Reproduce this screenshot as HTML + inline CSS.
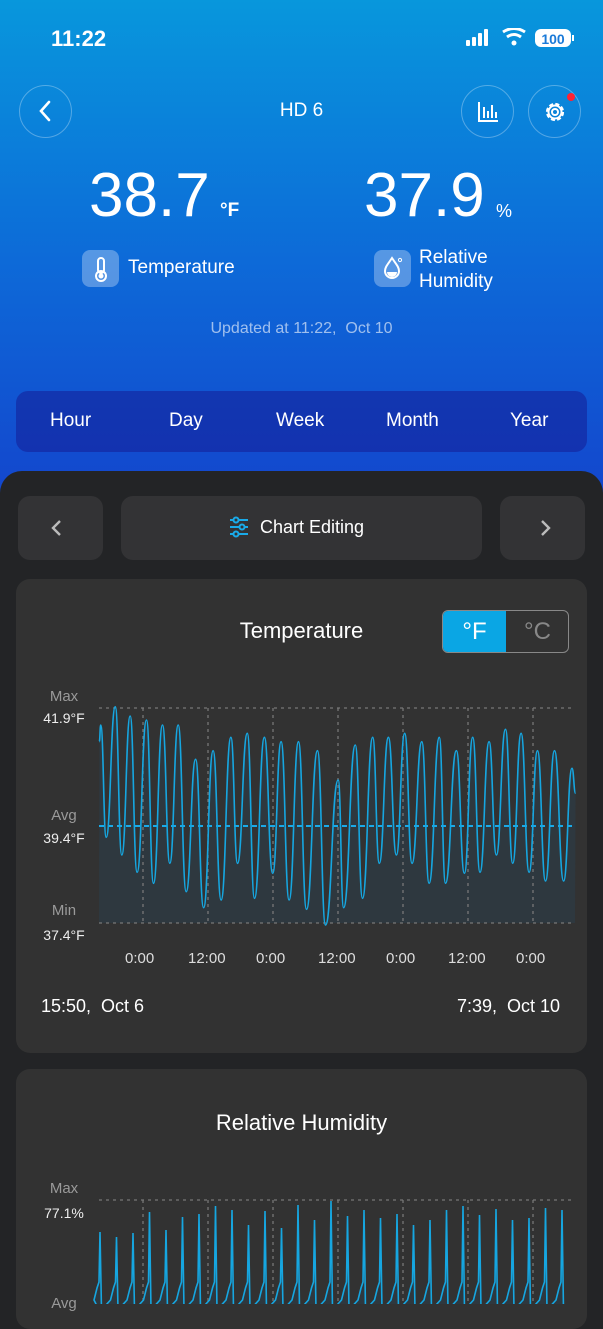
<!DOCTYPE html>
<html style="background:#232426"><head><meta charset="utf-8"><style>
*{margin:0;padding:0;box-sizing:border-box}
body{width:603px;height:1304px;overflow:hidden;font-family:"Liberation Sans",sans-serif;background:linear-gradient(180deg,#0897dc 0%,#0d6ad8 20%,#1442cc 40%,#1a2cbf 100%);position:relative;color:#fff}
.a{position:absolute}
.circ{position:absolute;width:53px;height:53px;border-radius:50%;border:1px solid rgba(255,255,255,0.3)}
.panel{position:absolute;left:0;top:471px;width:603px;height:840px;background:#232426;border-radius:22px 22px 0 0}
.btn{position:absolute;background:#333335;border-radius:12px}
.card{position:absolute;left:16px;width:571px;background:#323232;border-radius:14px}
.lbl{position:absolute;font-size:15px;color:#9a9a9a;width:80px;text-align:center}
.val{position:absolute;font-size:14px;color:#eee;width:80px;text-align:center}
</style></head><body>
<div class="a" style="left:51px;top:26px;font-size:22px;font-weight:bold">11:22</div>
<svg class="a" style="left:466px;top:28px" width="110" height="22">
<rect x="0" y="12" width="4" height="6" rx="1" fill="#fff"/><rect x="6" y="9" width="4" height="9" rx="1" fill="#fff"/><rect x="12" y="5" width="4" height="13" rx="1" fill="#fff"/><rect x="18" y="1" width="4" height="17" rx="1" fill="#fff"/>
<path d="M37 4 Q48 -3 59 4" stroke="#fff" stroke-width="3" fill="none"/><path d="M41 9 Q48 4 55 9" stroke="#fff" stroke-width="3" fill="none"/><circle cx="48" cy="15" r="2.5" fill="#fff"/>
<rect x="69" y="1" width="36" height="18" rx="6" fill="#fff"/><rect x="106" y="7" width="2" height="6" fill="#fff"/>
<text x="87" y="16" font-size="14" font-weight="bold" fill="#1a7ad8" text-anchor="middle" font-family="Liberation Sans">100</text></svg>
<div class="circ" style="left:19px;top:85px"></div>
<svg class="a" style="left:36px;top:100px" width="20" height="22"><path d="M13 2 L5 11 L13 20" stroke="#fff" stroke-width="2.6" fill="none" stroke-linecap="round"/></svg>
<div class="a" style="left:0;width:603px;top:100px;text-align:center;font-size:19px">HD 6</div>
<div class="circ" style="left:461px;top:85px"></div>
<svg class="a" style="left:476px;top:100px" width="24" height="24"><path d="M3 2V21H22" stroke="#fff" stroke-width="2" fill="none"/><path d="M8 7V18M12 11V18M16 5V18M20 12V18" stroke="#fff" stroke-width="2"/></svg>
<div class="circ" style="left:528px;top:85px"></div>
<svg class="a" style="left:542px;top:99px" width="26" height="26"><circle cx="13" cy="13" r="8" stroke="#fff" stroke-width="2.2" fill="none" stroke-dasharray="4 2.3"/><circle cx="13" cy="13" r="6.5" stroke="#fff" stroke-width="2" fill="none"/><circle cx="13" cy="13" r="3" stroke="#fff" stroke-width="2" fill="none"/></svg>
<div class="a" style="left:567px;top:93px;width:8px;height:8px;border-radius:50%;background:#f23"></div>
<div class="a" style="left:89px;top:160px;font-size:62px">38.7</div>
<div class="a" style="left:220px;top:200px;font-size:19px;font-weight:bold">°F</div>
<div class="a" style="left:364px;top:160px;font-size:62px">37.9</div>
<div class="a" style="left:496px;top:201px;font-size:18px">%</div>
<div class="a" style="left:82px;top:250px;width:37px;height:37px;border-radius:8px;background:rgba(255,255,255,0.3)"></div>
<svg class="a" style="left:82px;top:250px" width="37" height="37"><rect x="16" y="8" width="6" height="15" rx="3" stroke="#fff" stroke-width="2" fill="none"/><circle cx="19" cy="26" r="5" stroke="#fff" stroke-width="2" fill="none"/><circle cx="19" cy="26" r="2.5" fill="#fff"/></svg>
<div class="a" style="left:128px;top:257px;font-size:19px">Temperature</div>
<div class="a" style="left:374px;top:250px;width:37px;height:37px;border-radius:8px;background:rgba(255,255,255,0.3)"></div>
<svg class="a" style="left:374px;top:250px" width="37" height="37"><path d="M18 8 C14 14 11 17 11 21 A7 7 0 0 0 25 21 C25 17 22 14 18 8Z" stroke="#fff" stroke-width="2" fill="none"/><path d="M13 22 A5 5 0 0 0 23 22Z" fill="#fff"/><circle cx="26" cy="10" r="1.6" stroke="#fff" fill="none"/></svg>
<div class="a" style="left:419px;top:246px;font-size:19px;line-height:24px">Relative<br>Humidity</div>
<div class="a" style="left:0;width:603px;top:320px;text-align:center;font-size:16px;color:rgba(255,255,255,0.6)">Updated at 11:22,&nbsp; Oct 10</div>
<div class="a" style="left:16px;top:391px;width:571px;height:61px;border-radius:12px;background:rgba(20,30,150,0.55)"></div>
<div class="a" style="top:410px;left:0;width:603px;font-size:19px">
<span class="a" style="left:50px">Hour</span><span class="a" style="left:169px">Day</span><span class="a" style="left:276px">Week</span><span class="a" style="left:386px">Month</span><span class="a" style="left:510px">Year</span></div>
<div class="panel"></div>
<div class="btn" style="left:18px;top:496px;width:85px;height:64px"></div>
<div class="btn" style="left:121px;top:496px;width:361px;height:64px"></div>
<div class="btn" style="left:500px;top:496px;width:85px;height:64px"></div>
<svg class="a" style="left:50px;top:519px" width="14" height="18"><path d="M10 2 L3 9 L10 16" stroke="#bbb" stroke-width="2.4" fill="none"/></svg>
<svg class="a" style="left:538px;top:519px" width="14" height="18"><path d="M4 2 L11 9 L4 16" stroke="#bbb" stroke-width="2.4" fill="none"/></svg>
<svg class="a" style="left:228px;top:516px" width="22" height="24"><g stroke="#1aaae8" stroke-width="2" fill="#323234"><path d="M2 4H20M2 11H20M2 18H20"/><circle cx="8" cy="4" r="2.5"/><circle cx="14" cy="11" r="2.5"/><circle cx="8" cy="18" r="2.5"/></g></svg>
<div class="a" style="left:260px;top:517px;font-size:18px">Chart Editing</div>
<div class="card" style="top:579px;height:474px"></div>
<div class="a" style="left:0;width:603px;top:618px;text-align:center;font-size:22px">Temperature</div>
<div class="a" style="left:442px;top:610px;width:127px;height:43px;border:1px solid #888;border-radius:6px;overflow:hidden">
<div style="position:absolute;left:0;top:0;width:63px;height:43px;background:#0aa6e4;font-size:24px;text-align:center;line-height:42px">°F</div>
<div style="position:absolute;left:63px;top:0;width:63px;height:43px;font-size:24px;color:#888;text-align:center;line-height:42px">°C</div></div>
<div class="lbl" style="left:24px;top:688px">Max</div><div class="val" style="left:24px;top:710px">41.9°F</div>
<div class="lbl" style="left:24px;top:807px">Avg</div><div class="val" style="left:24px;top:830px">39.4°F</div>
<div class="lbl" style="left:24px;top:902px">Min</div><div class="val" style="left:24px;top:927px">37.4°F</div>
<svg id="t" class="a" style="left:0;top:0" width="603" height="1304"></svg>
<div class="a" style="top:950px;left:0;width:603px;font-size:15px;color:#ddd">
<span class="a" style="left:125px">0:00</span><span class="a" style="left:188px">12:00</span><span class="a" style="left:256px">0:00</span><span class="a" style="left:318px">12:00</span><span class="a" style="left:386px">0:00</span><span class="a" style="left:448px">12:00</span><span class="a" style="left:516px">0:00</span></div>
<div class="a" style="left:41px;top:996px;font-size:18px">15:50,&nbsp; Oct 6</div>
<div class="a" style="left:457px;top:996px;font-size:18px">7:39,&nbsp; Oct 10</div>
<div class="card" style="top:1069px;height:260px"></div>
<div class="a" style="left:0;width:603px;top:1110px;text-align:center;font-size:22px">Relative Humidity</div>
<div class="lbl" style="left:24px;top:1180px">Max</div><div class="val" style="left:24px;top:1205px">77.1%</div>
<div class="lbl" style="left:24px;top:1295px">Avg</div>
<svg id="h" class="a" style="left:0;top:0" width="603" height="1304"></svg>
<script>
var P=[[218,185],[222,135],[237,472],[262,80],[280,525],[303,108],[322,577],[348,120],[367,610],[392,135],[412,550],[435,135],[457,635],[483,238],[505,683],[531,212],[553,660],[580,172],[598,550],[625,160],[645,655],[672,172],[695,580],[718,185],[740,660],[766,185],[788,688],[818,212],[840,735],[875,300],[890,683],[922,195],[942,655],[970,172],[988,550],[1013,172],[1035,525],[1058,160],[1078,550],[1105,185],[1125,610],[1153,172],[1170,610],[1200,212],[1222,580],[1245,172],[1265,577],[1290,185],[1310,525],[1335,148],[1355,550],[1378,160],[1400,577],[1423,212],[1445,603],[1470,212],[1495,603],[1518,265],[1528,340]];
var pts=P.map(function(p){return [p[0]/2.75+20,p[1]/3+680]});
var d='M'+pts[0][0].toFixed(1)+' '+pts[0][1].toFixed(1);
for(var i=1;i<pts.length;i++){var a=pts[i-1],b=pts[i],mx=(a[0]+b[0])/2;d+=' C'+mx.toFixed(1)+' '+a[1].toFixed(1)+' '+mx.toFixed(1)+' '+b[1].toFixed(1)+' '+b[0].toFixed(1)+' '+b[1].toFixed(1);}
var s='<path d="'+d+' L575 923 L99 923Z" fill="rgba(40,70,90,0.35)"/>';
s+='<g stroke="#777" stroke-width="1.3" stroke-dasharray="3 4"><path d="M99 708H575M99 923H575"/>';
[143,208,273,338,403,468,533].forEach(function(x){s+='<path d="M'+x+' 708V923"/>'});
s+='</g><path d="M99 826H575" stroke="#1aaae8" stroke-width="2" stroke-dasharray="5 4"/>';
s+='<path d="'+d+'" stroke="#16a6e0" stroke-width="1.6" fill="none" stroke-linejoin="round"/>';
document.getElementById('t').innerHTML=s;
var h='<g stroke="#777" stroke-width="1.3" stroke-dasharray="3 4"><path d="M99 1200H575"/>';
[143,208,273,338,403,468,533].forEach(function(x){h+='<path d="M'+x+' 1200V1304"/>'});
h+='</g>';
var tops=[1232,1237,1233,1212,1230,1217,1214,1206,1210,1225,1211,1228,1205,1220,1201,1216,1210,1218,1214,1225,1220,1210,1206,1215,1209,1220,1218,1208,1210];
var hd='M99 1310';
for(var i=0;i<tops.length;i++){var px=100+i*16.5;hd+=' L'+(px-6)+' 1300 L'+(px-3)+' 1288 L'+(px-1)+' 1282 L'+px+' '+tops[i]+' L'+(px+1.5)+' 1310';}
h+='<path d="'+hd+'" stroke="#16a6e0" stroke-width="1.6" fill="rgba(40,70,90,0.35)"/>';
document.getElementById('h').innerHTML=h;
</script>
</body></html>
